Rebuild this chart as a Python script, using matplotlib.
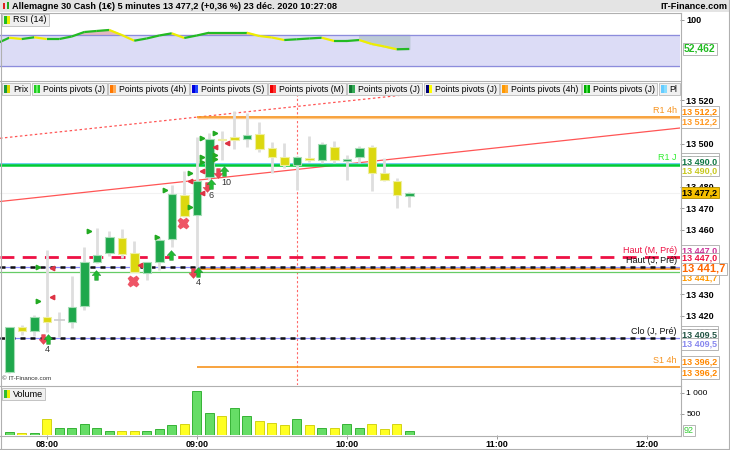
import matplotlib
matplotlib.use("Agg")
import matplotlib.pyplot as plt
import matplotlib.transforms as mtransforms
from matplotlib.patches import Rectangle
from matplotlib.path import Path
import numpy as np

plt.rcParams['font.family'] = ['Liberation Sans', 'DejaVu Sans']

# ---------------- data ----------------
times = ['07:45', '07:50', '07:55', '08:00', '08:05', '08:10', '08:15', '08:20', '08:25',
         '08:30', '08:35', '08:40', '08:45', '08:50', '08:55', '09:00', '09:05', '09:10',
         '09:15', '09:20', '09:25', '09:30', '09:35', '09:40', '09:45', '09:50', '09:55',
         '10:00', '10:05', '10:10', '10:15', '10:20', '10:25']
opens = [13393.9, 13414.6, 13412.7, 13419.4, 13417.8, 13417.0, 13424.6, 13444.7, 13449.1,
         13455.9, 13449.2, 13439.6, 13444.7, 13455.7, 13476.0, 13466.6, 13484.6, 13502.1,
         13503.0, 13502.1, 13504.4, 13498.0, 13493.9, 13490.0, 13493.4, 13492.2, 13498.5,
         13491.9, 13493.6, 13498.5, 13486.1, 13482.6, 13475.6]
highs = [13414.8, 13415.8, 13420.2, 13450.5, 13421.8, 13438.4, 13451.7, 13460.6, 13459.3,
         13460.2, 13454.7, 13444.9, 13456.7, 13480.7, 13487.2, 13503.0, 13504.7, 13506.0,
         13515.1, 13514.0, 13509.9, 13500.8, 13500.1, 13494.2, 13503.5, 13500.7, 13501.2,
         13494.7, 13498.8, 13499.3, 13493.1, 13483.8, 13477.6]
lows = [13393.3, 13411.0, 13410.6, 13412.5, 13410.1, 13414.0, 13422.6, 13444.4, 13447.7,
        13446.9, 13440.4, 13436.5, 13441.2, 13452.0, 13465.8, 13441.2, 13483.0, 13492.3,
        13497.4, 13498.5, 13496.2, 13486.4, 13488.5, 13478.4, 13491.4, 13491.1, 13491.1,
        13483.0, 13490.9, 13478.0, 13482.6, 13469.9, 13470.6]
closes = [13414.8, 13413.0, 13419.3, 13417.1, 13417.8, 13423.8, 13444.9, 13448.0, 13456.5,
          13448.6, 13440.4, 13444.7, 13455.1, 13476.4, 13466.4, 13482.6, 13502.0, 13501.6,
          13501.6, 13504.1, 13497.3, 13493.9, 13490.1, 13493.9, 13492.3, 13499.6, 13492.3,
          13492.9, 13498.0, 13486.1, 13483.0, 13476.0, 13477.2]
volumes = [50, 25, 45, 360, 145, 165, 240, 145, 75, 95, 95, 95, 120, 215, 240, 1045, 520, 430,
           640, 430, 330, 285, 215, 380, 215, 145, 145, 260, 165, 260, 120, 260, 92]
vol_up = [1, 0, 1, 0, 1, 1, 1, 1, 1, 0, 0, 1, 1, 1, 0, 1, 1, 0,
          1, 1, 0, 0, 0, 1, 0, 1, 0, 1, 1, 0, 0, 0, 1]
rsi_times = ['07:40'] + times
rsi = [61.3, 70.6, 68.5, 71.3, 68.5, 68.5, 72.6, 79.8, 81.5, 83.1, 75.0, 65.8, 69.4, 74.2,
       77.7, 70.2, 74.2, 78.7, 78.7, 78.7, 78.7, 73.4, 71.0, 66.9, 68.1, 69.4, 70.6, 65.3,
       65.3, 66.9, 60.5, 56.5, 52.0, 52.462]

# pivot levels
r1_4h, s1_4h, pivot_4h = 13512.2, 13396.2, 13441.7
r1_j, r1_j_blue, pivot_j = 13490.0, 13490.7, 13440.3
haut_m_pre, haut_j_pre, clo_j_pre = 13447.0, 13442.4, 13409.5
last_price = 13477.2
session_4h_start = '09:00'
cursor_time = '09:40'
trend_solid = [('07:45', 13473.5), ('11:55', 13504.9)]
trend_dotted = [('07:45', 13502.9), ('10:15', 13521.6)]

# signals (time slot, price)
tri_up_x = [2.33, 2.33, 6.4, 11.8, 12.46, 14.46, 14.46, 15.4, 15.4, 15.4, 16.46, 16.46, 16.46]
tri_up_y = [13426.9, 13442.7, 13459.3, 13456.7, 13478.4, 13486.1, 13470.6, 13502.4, 13493.7,
            13491.5, 13504.7, 13494.7, 13492.7]
tri_dn_x = [3.4, 3.4, 10.46, 14.46, 15.4, 15.4, 16.46, 17.4]
tri_dn_y = [13428.7, 13442.0, 13443.5, 13482.6, 13476.8, 13487.3, 13498.5, 13500.4]
arrow_up_x = [3.06, 6.92, 12.94, 15.06, 16.14, 17.18]
arrow_up_y = [13409.1, 13438.8, 13448.1, 13440.2, 13481.2, 13487.3]
arrow_dn_x = [2.7, 14.7, 15.8, 16.73]
arrow_dn_y = [13409.1, 13439.9, 13479.8, 13486.1]
cross_x = [9.93, 13.93]
cross_y = [13436.0, 13462.9]
count_x = [2.84, 14.92, 15.93, 16.94]
count_y = [13404.3, 13435.3, 13475.7, 13482.0]
count_txt = ['4', '4', '6', '10']

tick_times = ['08:00', '09:00', '10:00', '11:00', '12:00']
legend_labels = ['Prix', 'Points pivots (J)', 'Points pivots (4h)', 'Points pivots (S)',
                 'Points pivots (M)', 'Points pivots (J)', 'Points pivots (J)',
                 'Points pivots (4h)', 'Points pivots (J)', 'Pl']
legend_icons = [['#1a9a3a', '#e0d800'], ['#22cc22', '#66ee66', '#22cc22'], ['#ff7700', '#ffaa55'],
                ['#0000dd', '#2244ff'], ['#ee0000', '#ff3333'], ['#117733', '#33aa55'],
                ['#000077', '#ffff00'], ['#ff9900', '#ffaa33'], ['#00aa00', '#44dd44', '#00aa00'],
                ['#66ccff', '#88ddff']]
title = 'Allemagne 30 Cash (1€) 5 minutes 13 477,2 (+0,36 %) 23 déc. 2020 10:27:08'


def slot(t):
    h, m = map(int, t.split(':'))
    return (h * 60 + m - (7 * 60 + 45)) / 5


def fr(v, nd=1):
    return f'{v:,.{nd}f}'.replace(',', ' ').replace('.', ',')


x = np.array([slot(t) for t in times])
xr = np.array([slot(t) for t in rsi_times])
XLIM = (-0.74, 53.66)

W, H = 730, 450
fig = plt.figure(figsize=(W / 100, H / 100), dpi=100)
fig.patch.set_facecolor('white')


def px_axes(x0, y0, x1, y1):
    return fig.add_axes([x0 / W, 1 - y1 / H, (x1 - x0) / W, (y1 - y0) / H])


def clean(ax):
    for s in ax.spines.values():
        s.set_visible(False)
    ax.set_xlim(*XLIM)
    ax.tick_params(axis='x', bottom=False, labelbottom=False)
    ax.tick_params(axis='y', left=False, labelleft=False, right=True, labelright=True,
                   length=3, width=0.6, color='#888888', labelsize=6, pad=1.5)


# ---------------- RSI panel ----------------
ax_r = px_axes(0, 13, 680, 80)
clean(ax_r)
ax_r.set_ylim(2.4, 110.5)
ax_r.axhspan(25, 75, color='#dcdcf6', zorder=0)
ax_r.axhline(75, color='#8c8cdc', lw=0.9)
ax_r.axhline(25, color='#8c8cdc', lw=0.9)
rsi_a = np.array(rsi)
ax_r.fill_between(xr, 75, rsi_a, where=rsi_a > 75, interpolate=True, color='#e2b8c0', zorder=1)
gray_zone = xr >= 28
ax_r.fill_between(xr[gray_zone], 75, rsi_a[gray_zone], color='#bccad6', zorder=1)
for k in range(len(rsi) - 1):
    c = '#22bb22' if rsi[k + 1] >= rsi[k] else '#eeee00'
    ax_r.plot(xr[k:k + 2], rsi[k:k + 2], color=c, lw=1.6, solid_capstyle='butt', zorder=3)
ax_r.set_yticks([100])
ax_r.set_yticklabels(['100'], fontweight='bold', fontsize=6.5)
ax_r.text(1.006, rsi[-1], fr(rsi[-1], 3), transform=mtransforms.blended_transform_factory(
    ax_r.transAxes, ax_r.transData), color='#22bb22', fontsize=7.5, fontweight='bold',
    va='center', ha='left', clip_on=False,
    bbox=dict(boxstyle='square,pad=0.12', fc='white', ec='#aaaaaa', lw=0.6))

# ---------------- price panel ----------------
ax = px_axes(0, 82, 680, 385)
clean(ax)
ax.set_ylim(13387.7, 13528.6)

ax.axhline(last_price, color='#f2f2f2', lw=0.8, zorder=0)
ax.axvline(slot(cursor_time), color='#ff6666', lw=0.8, ls=(0, (2, 2)), zorder=1)
ax.axline((slot(trend_solid[0][0]), trend_solid[0][1]), (slot(trend_solid[1][0]), trend_solid[1][1]),
          color='#ff5555', lw=0.9, zorder=1)
ax.axline((slot(trend_dotted[0][0]), trend_dotted[0][1]), (slot(trend_dotted[1][0]), trend_dotted[1][1]),
          color='#ff5555', lw=0.9, ls=(0, (2, 2)), zorder=1)

x4 = slot(session_4h_start)
ax.hlines(r1_4h - 0.5, x4, XLIM[1], color='#fcc88a', lw=1.0, zorder=1)
ax.hlines(r1_4h, x4, XLIM[1], color='#f7931e', lw=1.2, zorder=1)
ax.hlines(pivot_4h, x4, XLIM[1], color='#f7931e', lw=1.3, zorder=1)
ax.hlines(s1_4h, x4, XLIM[1], color='#f7931e', lw=1.2, zorder=1)
ax.axhline(r1_j_blue, color='#66ccee', lw=1.3, zorder=1)
ax.axhline(r1_j, color='#00cc33', lw=1.8, zorder=1)
ax.axhline(pivot_j, color='#66cc66', lw=0.9, zorder=1)
ax.axhline(haut_m_pre, color='#ee1144', lw=2.0, ls=(0, (5, 3)), zorder=1)
ax.axhline(haut_j_pre, color='#8888ff', lw=0.9, zorder=1)
ax.axhline(haut_j_pre, color='#111111', lw=1.8, ls=(0, (2, 2)), zorder=1)
ax.axhline(clo_j_pre, color='#8888ff', lw=0.9, zorder=1)
ax.axhline(clo_j_pre, color='#111111', lw=1.8, ls=(0, (2, 2)), zorder=1)

# candles
bw = 0.68
ax.vlines(x, lows, highs, color='#dedede', lw=2.0, zorder=2)
for xi, o, c in zip(x, opens, closes):
    if abs(c - o) < 0.05:
        ax.hlines(o, xi - bw / 2 - 0.1, xi + bw / 2 + 0.1, color='#cccccc', lw=1.2, zorder=3)
        continue
    up = c > o
    ax.add_patch(Rectangle((xi - bw / 2, min(o, c)), bw, abs(c - o),
                           fc='#1fa84c' if up else '#dcd80e',
                           ec='#a6dcb6' if up else '#eeeea0', lw=0.8, zorder=3))

# signals
up_arrow = Path([(0, 1), (0.9, 0), (0.38, 0), (0.38, -1), (-0.38, -1), (-0.38, 0), (-0.9, 0), (0, 1)])
dn_arrow = Path([(0, -1), (0.9, 0), (0.38, 0), (0.38, 1), (-0.38, 1), (-0.38, 0), (-0.9, 0), (0, -1)])
ax.plot(tri_up_x, tri_up_y, ls='none', marker='>', ms=3.2, color='#22aa22', zorder=4)
ax.plot(tri_dn_x, tri_dn_y, ls='none', marker='<', ms=3.2, color='#dd3344', zorder=4)
ax.plot(arrow_dn_x, arrow_dn_y, ls='none', marker=dn_arrow, ms=7, color='#ee4455', mec='#cc2233',
        mew=0.3, zorder=5)
ax.plot(arrow_up_x, arrow_up_y, ls='none', marker=up_arrow, ms=7, color='#22bb33', mec='#118822',
        mew=0.3, zorder=5)
ax.plot(cross_x, cross_y, ls='none', marker='X', ms=7.5, color='#ee5566', mec='#ee5566', zorder=5)
for cx, cy, ct in zip(count_x, count_y, count_txt):
    ax.text(cx, cy, ct, fontsize=6.5, color='#333333', ha='left', va='center', zorder=5)

# level labels inside the panel
xr_lab = XLIM[1] - 0.25
lab_kw = dict(ha='right', va='bottom', fontsize=6.5, zorder=6)
ax.text(xr_lab, r1_4h + 1.0, 'R1 4h', color='#f7931e', **lab_kw)
ax.text(xr_lab, r1_j + 1.2, 'R1 J', color='#33ee33', **lab_kw)
ax.text(xr_lab, haut_m_pre + 1.2, 'Haut (M, Pré)', color='#ee1144', **lab_kw)
ax.text(xr_lab, haut_j_pre + 1.0, 'Haut (J, Pré)', color='#111111', **lab_kw)
ax.text(xr_lab, clo_j_pre + 1.0, 'Clo (J, Pré)', color='#111111', **lab_kw)
ax.text(xr_lab, s1_4h + 1.0, 'S1 4h', color='#f7931e', **lab_kw)

ax.set_yticks([13420, 13430, 13460, 13470, 13480, 13500, 13520])
ax.set_yticklabels([fr(v, 0) for v in ax.get_yticks()], fontweight='bold', fontsize=6.5)

# right-axis value tags: value, text colour, pixel nudge
tags = [(r1_4h, '#ff8800', -5), (r1_4h, '#ff9922', 5),
        (r1_j, '#22bb44', -6), (r1_j, '#117744', -3.5), (r1_j, '#c8c820', 5.5),
        (haut_m_pre, '#cc3399', -6.5), (haut_m_pre, '#ee1144', 1),
        (pivot_4h, '#ff9900', 9),
        (clo_j_pre, '#333333', -6), (clo_j_pre, '#225544', -3), (clo_j_pre, '#8888ee', 6),
        (s1_4h, '#ff8800', -5), (s1_4h, '#ff8800', 6)]
btr = mtransforms.blended_transform_factory(ax.transAxes, ax.transData)
for val, col, dy in tags:
    ax.text(1.003, val, fr(val), color=col, fontsize=6.5, fontweight='bold', va='center', ha='left',
            clip_on=False, zorder=7,
            transform=mtransforms.offset_copy(btr, fig=fig, y=-dy, units='dots'),
            bbox=dict(boxstyle='square,pad=0.15', fc='white', ec='#aaaaaa', lw=0.6))
ax.text(1.003, pivot_4h, fr(pivot_4h), color='#ff6600', fontsize=8, fontweight='bold',
        va='center', ha='left', clip_on=False, zorder=8, transform=btr,
        bbox=dict(boxstyle='square,pad=0.12', fc='white', ec='#aaaaaa', lw=0.6))
ax.text(1.003, last_price, fr(last_price), color='black', fontsize=6.5, fontweight='bold',
        va='center', ha='left', clip_on=False, zorder=8, transform=btr,
        bbox=dict(boxstyle='square,pad=0.15', fc='#f5c000', ec='#aa8800', lw=0.6))
ax.text(0.003, 0.012, '© IT-Finance.com', transform=ax.transAxes, fontsize=4.5, color='#333333',
        ha='left', va='bottom')

# ---------------- volume panel ----------------
ax_v = px_axes(0, 387, 680, 434.5)
clean(ax_v)
ax_v.set_ylim(0, 1131)
ax_v.bar(x, volumes, width=0.72,
         color=['#66dd66' if u else '#ffff22' for u in vol_up],
         edgecolor=['#22aa22' if u else '#cccc00' for u in vol_up], lw=0.6, zorder=2)
ax_v.set_yticks([500, 1000])
ax_v.set_yticklabels(['500', '1 000'], fontsize=6)
ax_v.text(1.006, volumes[-1], str(volumes[-1]), color='#33cc33', fontsize=6.5, va='center', ha='left',
          clip_on=False, transform=mtransforms.blended_transform_factory(ax_v.transAxes, ax_v.transData),
          bbox=dict(boxstyle='square,pad=0.12', fc='white', ec='#aaaaaa', lw=0.6))
ax_v.set_xticks([slot(t) for t in tick_times])
ax_v.set_xticklabels(tick_times, fontsize=6.5, fontweight='bold')
ax_v.tick_params(axis='x', bottom=True, labelbottom=True, length=3, width=0.6, color='#888888',
                 pad=0.8)

# ---------------- overlay: frames, title, legends ----------------
ov = fig.add_axes([0, 0, 1, 1])
ov.set_xlim(0, W)
ov.set_ylim(H, 0)
ov.axis('off')
ov.patch.set_alpha(0)
ov.set_zorder(10)
renderer = fig.canvas.get_renderer()

ov.add_patch(Rectangle((0, 0), W, 12, fc='#e4e4e4', ec='none'))
ov.add_patch(Rectangle((2.5, 3), 2.5, 6, fc='#dd2222', ec='none'))
ov.add_patch(Rectangle((6.5, 2), 2.5, 7, fc='#22aa22', ec='none'))
ov.text(12, 6.3, title, fontsize=6.6, fontweight='bold', va='center', ha='left')
ov.text(727, 6.3, 'IT-Finance.com', fontsize=6.6, fontweight='bold', va='center', ha='right')

# legend row over the price panel
ov.add_patch(Rectangle((0.5, 81.5), 680, 14.5, fc='white', ec='none', zorder=1))


def legend_item(x0, y0, label, icons, h=12, size=6.2, clip=None):
    t = ov.text(x0 + 11, y0 + h / 2 + 0.3, label, fontsize=size, va='center', ha='left', zorder=4)
    if clip is not None:
        t.set_clip_box(clip)
        t.set_clip_on(True)
    w = t.get_window_extent(renderer).width + 13
    ov.add_patch(Rectangle((x0, y0), w, h, fc='#f0f0f0', ec='#bbbbbb', lw=0.6, zorder=2))
    n = len(icons)
    for k, c in enumerate(icons):
        ov.add_patch(Rectangle((x0 + 2 + k * 6 / n, y0 + 2), 6 / n, h - 4, fc=c, ec='none', zorder=3))
    return x0 + w + 1.5


clip_box = mtransforms.Bbox.from_extents(0, 0, 679, H)
xx = 2
for lab, ic in zip(legend_labels, legend_icons):
    xx = legend_item(xx, 83, lab, ic, clip=clip_box)
ov.add_patch(Rectangle((680.5, 80.5), 48, 16, fc='white', ec='none', zorder=5))

legend_item(2, 13.5, 'RSI (14)', ['#22bb22', '#eeee00'], h=12, size=6.5)
legend_item(2, 388, 'Volume', ['#33bb33', '#eeee00'], h=12, size=6.5)

# frames
fc = '#b0b0b0'
for yy in [12.5, 80.5, 386, 436]:
    ov.plot([0, 680.5], [yy, yy], color=fc, lw=0.8, zorder=6)
ov.plot([680.5, 680.5], [12.5, 436], color=fc, lw=0.8, zorder=6)
ov.plot([0.5, 0.5], [12.5, 448.5], color=fc, lw=0.8, zorder=6)
ov.plot([728.5, 728.5], [0, 448.5], color=fc, lw=0.8, zorder=6)
ov.plot([0, 728.5], [448.5, 448.5], color=fc, lw=0.8, zorder=6)

fig.savefig('out.png', dpi=100, facecolor='white')
